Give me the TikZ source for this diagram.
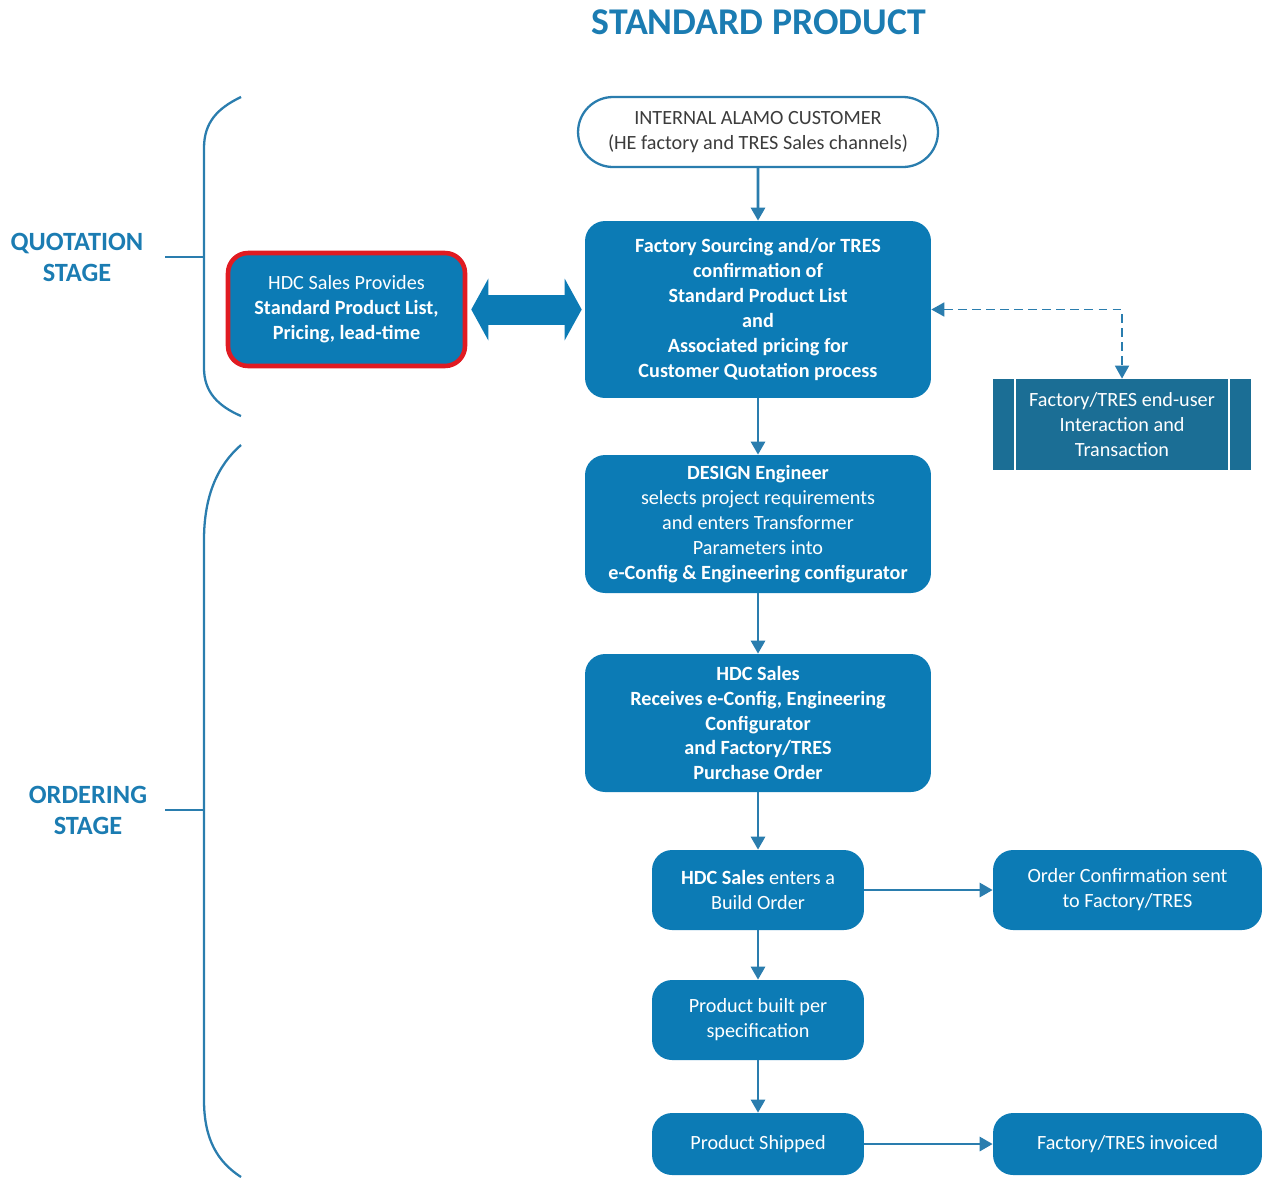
\documentclass[tikz,border=0pt]{standalone}
\usepackage{fontspec}
\setmainfont{Carlito}
\usetikzlibrary{arrows.meta,calc,shapes.misc}
\definecolor{boxblue}{HTML}{0C7BB5}
\definecolor{titleblue}{HTML}{1B7CB2}
\definecolor{darkbox}{HTML}{1B6E95}
\definecolor{linecol}{HTML}{2A7DAE}
\definecolor{txtgray}{HTML}{3C3C3C}
\definecolor{redline}{HTML}{E01B22}
\begin{document}
\begin{tikzpicture}[x=0.02cm,y=-0.02cm,
  txt/.style={font=\fontsize{11.5}{14.2}\selectfont, align=center, text=white},
  pbox/.style={txt, fill=boxblue, rounded corners=0.4cm, inner sep=0pt},
  bigbox/.style={pbox, minimum width=6.92cm},
  smallbox/.style={pbox, minimum width=4.24cm, minimum height=1.6cm},
  sidebox/.style={pbox, minimum width=5.38cm},
  conn/.style={draw=linecol, line width=1.6pt, -{Triangle[width=0.28cm,length=0.26cm]}},
  bracket/.style={draw=linecol, line width=1.3pt},
  stagelbl/.style={font=\fontsize{15}{17.6}\selectfont\bfseries, text=titleblue, align=center}
]
\useasboundingbox (0,0) rectangle (1266,1177);

% title
\node[font=\fontsize{21.5}{24}\selectfont\bfseries, text=titleblue] (title) at (759,22) {STANDARD PRODUCT};

% nodes
\node[draw=linecol, line width=1.3pt, fill=white, rounded rectangle, minimum width=7.2cm, minimum height=1.4cm,
      font=\fontsize{11.5}{14.2}\selectfont, align=center, text=txtgray, inner sep=0pt] (cust) at (758,132)
  {INTERNAL ALAMO CUSTOMER\\(HE factory and TRES Sales channels)};

\node[bigbox, minimum height=3.54cm, font=\fontsize{11.5}{14.2}\selectfont\bfseries] (fs) at (758,309.5)
  {Factory Sourcing and/or TRES\\confirmation of\\Standard Product List\\and\\Associated pricing for\\Customer Quotation process};

\node[pbox, draw=redline, line width=2.6pt, minimum width=4.74cm, minimum height=2.26cm] (hdcp) at (346.5,309.5)
  {HDC Sales Provides\\\textbf{Standard Product List,}\\\textbf{Pricing, lead-time}};

\node[txt, fill=darkbox, minimum width=5.16cm, minimum height=1.82cm, inner sep=0pt] (eu) at (1122,424.5)
  {Factory/TRES end-user\\Interaction and\\Transaction};
\draw[white, line width=1.2pt] ($(eu.north west)+(22,0)$) -- ($(eu.south west)+(22,0)$);
\draw[white, line width=1.2pt] ($(eu.north east)+(-22,0)$) -- ($(eu.south east)+(-22,0)$);

\node[bigbox, minimum height=2.76cm] (design) at (758,524)
  {\textbf{DESIGN Engineer}\\selects project requirements\\and enters Transformer\\Parameters into\\\textbf{e-Config \& Engineering configurator}};

\node[bigbox, minimum height=2.76cm, font=\fontsize{11.5}{14.2}\selectfont\bfseries] (recv) at (758,723)
  {HDC Sales\\Receives e-Config, Engineering\\Configurator\\and Factory/TRES\\Purchase Order};

\node[smallbox] (enters) at (758,890) {\textbf{HDC Sales} enters a\\Build Order};
\node[sidebox, minimum height=1.6cm] (order) at (1127.5,890) {Order Confirmation sent\\to Factory/TRES};
\node[smallbox] (built) at (758,1020) {Product built per\\specification};
\node[smallbox, minimum height=1.24cm] (ship) at (758,1144) {Product Shipped};
\node[sidebox, minimum height=1.24cm] (inv) at (1127.5,1144) {Factory/TRES invoiced};

% connectors
\draw[conn] (cust) -- (fs);
\draw[conn] (fs) -- (design);
\draw[conn] (design) -- (recv);
\draw[conn] (recv) -- (enters);
\draw[conn] (enters) -- (built);
\draw[conn] (built) -- (ship);
\draw[conn] (enters) -- (order);
\draw[conn] (ship) -- (inv);
\draw[draw=linecol, line width=1pt, dash pattern=on 5pt off 3pt,
      {Triangle[width=0.28cm,length=0.26cm]}-{Triangle[width=0.28cm,length=0.26cm]}] (fs.east) -| (eu.north);

% double arrow
\draw[draw=boxblue, line width=0.6cm, shorten <=0.08cm, shorten >=0.06cm,
      {Triangle[width=1.22cm,length=0.34cm]}-{Triangle[width=1.22cm,length=0.34cm]}] (hdcp.east) -- (fs.west);

% brackets
\draw[bracket] (241,97) .. controls (218,108) and (204,122) .. (204,148) -- (204,368)
  .. controls (204,392) and (218,406) .. (241,416);
\draw[bracket] (165,257) -- (204,257);
\draw[bracket] (241,445) .. controls (218,465) and (204,495) .. (204,540) -- (204,1100)
  .. controls (204,1140) and (218,1162) .. (241,1177);
\draw[bracket] (165,810) -- (204,810);

\node[stagelbl] (qs) at (77,257) {QUOTATION\\STAGE};
\node[stagelbl] (os) at (88,810) {ORDERING\\STAGE};
\end{tikzpicture}
\end{document}
